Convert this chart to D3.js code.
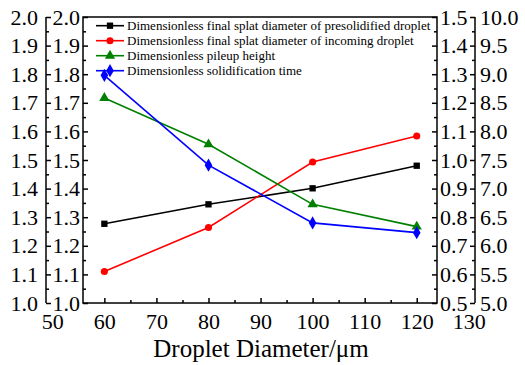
<!DOCTYPE html>
<html>
<head>
<meta charset="utf-8">
<script src="https://cdn.jsdelivr.net/npm/d3@7"></script>
<style>
  body { margin: 0; background: #fff; }
  svg { display: block; }
  text { font-family: "Liberation Serif", "Times New Roman", serif; fill: #000; }
</style>
</head>
<body>
<svg id="chart"></svg>
<script>
const diameters = [60, 80, 100, 120];
const presolidified = [1.277, 1.345, 1.401, 1.480];
const incoming = [1.110, 1.264, 1.493, 1.584];
const pileup = [1.217, 1.055, 0.845, 0.767];
const solidTime = [8.98, 7.41, 6.40, 6.23];

const xTicks = [50, 60, 70, 80, 90, 100, 110, 120, 130];
const leftTicks = d3.range(10, 21).map((d) => d / 10);
const rightInnerTicks = d3.range(5, 16).map((d) => d / 10);
const rightOuterTicks = d3.range(10, 21).map((d) => d / 2);

const legendLabels = [
  "Dimensionless final splat diameter of presolidified droplet",
  "Dimensionless final splat diameter of incoming droplet",
  "Dimensionless pileup height",
  "Dimensionless solidification time",
];

const width = 525;
const height = 365;
const frame = { left: 83, right: 437, top: 17, bottom: 303 };
const outerLeftX = 46;
const outerRightX = 475;
const serif = '"Liberation Serif", "Times New Roman", serif';

const $svg = d3.select("#chart").attr("width", width).attr("height", height);

const x = d3.scaleLinear().domain([50, 130]).range([52.3, 468.8]);
const yLeft = d3.scaleLinear().domain([1.0, 2.0]).range([frame.bottom, frame.top]);
const yRightInner = d3.scaleLinear().domain([0.5, 1.5]).range([frame.bottom, frame.top]);
const yRightOuter = d3.scaleLinear().domain([5.0, 10.0]).range([frame.bottom, frame.top]);

const fmt = d3.format(".1f");

// minor tick positions halfway between majors
const minors = (ticks) => ticks.slice(0, -1).map((d, i) => (d + ticks[i + 1]) / 2);

const styleAxis = ($g, fontSize) => {
  $g.attr("font-family", serif);
  $g.select(".domain").remove();
  $g.selectAll("line").attr("stroke", "#000").attr("stroke-width", 1.5);
  $g.selectAll("text")
    .style("font-size", `${fontSize}px`)
    .style("font-family", serif);
};

const drawYAxis = (axisFn, scale, ticks, xPos, padding) => {
  const $major = $svg.append("g").attr("transform", `translate(${xPos},0)`)
    .call(axisFn(scale).tickValues(ticks).tickFormat(fmt).tickSize(-5).tickPadding(padding));
  styleAxis($major, 22);
  const $minor = $svg.append("g").attr("transform", `translate(${xPos},0)`)
    .call(axisFn(scale).tickValues(minors(ticks)).tickFormat("").tickSize(-3));
  styleAxis($minor, 22);
};

// axis lines
$svg.append("rect")
  .attr("x", frame.left).attr("y", frame.top)
  .attr("width", frame.right - frame.left).attr("height", frame.bottom - frame.top)
  .attr("fill", "none").attr("stroke", "#000").attr("stroke-width", 1.5);
[outerLeftX, outerRightX].forEach((xp) => {
  $svg.append("line")
    .attr("x1", xp).attr("x2", xp).attr("y1", frame.top).attr("y2", frame.bottom)
    .attr("stroke", "#000").attr("stroke-width", 1.5);
});

drawYAxis(d3.axisLeft, yLeft, leftTicks, outerLeftX, 8);
drawYAxis(d3.axisLeft, yLeft, leftTicks, frame.left, 3);
drawYAxis(d3.axisRight, yRightInner, rightInnerTicks, frame.right, 3);
drawYAxis(d3.axisRight, yRightOuter, rightOuterTicks, outerRightX, 5);

// x axis
const $xMajor = $svg.append("g").attr("transform", `translate(0,${frame.bottom})`)
  .call(d3.axisBottom(x).tickValues(xTicks).tickFormat(d3.format("d")).tickSize(-5).tickPadding(10));
styleAxis($xMajor, 22);
$xMajor.selectAll(".tick")
  .filter((d) => d < 55 || d > 125)
  .select("line").remove();
const $xMinor = $svg.append("g").attr("transform", `translate(0,${frame.bottom})`)
  .call(d3.axisBottom(x).tickValues(d3.range(65, 125, 10)).tickFormat("").tickSize(-3));
styleAxis($xMinor, 22);

$svg.append("text")
  .attr("x", 261).attr("y", 357)
  .attr("text-anchor", "middle")
  .style("font-size", "25px")
  .style("font-family", serif)
  .text("Droplet Diameter/\u03bcm");

// series
const series = [
  { values: presolidified, scale: yLeft, color: "#000000", symbol: d3.symbolSquare, size: 40 },
  { values: incoming, scale: yLeft, color: "#ff0000", symbol: d3.symbolCircle, size: 40 },
  { values: pileup, scale: yRightInner, color: "#008000", symbol: d3.symbolTriangle, size: 45 },
  { values: solidTime, scale: yRightOuter, color: "#0000ff", symbol: d3.symbolDiamond, size: 50 },
];

series.forEach((s) => {
  const line = d3.line()
    .x((d, i) => x(diameters[i]))
    .y((d) => s.scale(d));
  $svg.append("path")
    .datum(s.values)
    .attr("d", line)
    .attr("fill", "none")
    .attr("stroke", s.color)
    .attr("stroke-width", 1.6);
  $svg.append("g")
    .selectAll("path")
    .data(s.values)
    .enter()
    .append("path")
    .attr("d", d3.symbol().type(s.symbol).size(s.size))
    .attr("transform", (d, i) => `translate(${x(diameters[i])},${s.scale(d)})`)
    .attr("fill", s.color);
});

// legend
const $legend = $svg.append("g").attr("transform", "translate(96,25.7)");
const $items = $legend.selectAll("g")
  .data(series)
  .enter()
  .append("g")
  .attr("transform", (d, i) => `translate(0,${i * 15})`);
$items.append("line")
  .attr("x1", 0).attr("x2", 28)
  .attr("stroke", (d) => d.color).attr("stroke-width", 1.6);
$items.append("path")
  .attr("d", (d) => d3.symbol().type(d.symbol).size(d.size)())
  .attr("transform", "translate(14,0)")
  .attr("fill", (d) => d.color);
$items.append("text")
  .attr("x", 31)
  .attr("dy", "0.35em")
  .style("font-size", "13px")
  .style("font-family", serif)
  .text((d, i) => legendLabels[i]);
</script>
</body>
</html>
